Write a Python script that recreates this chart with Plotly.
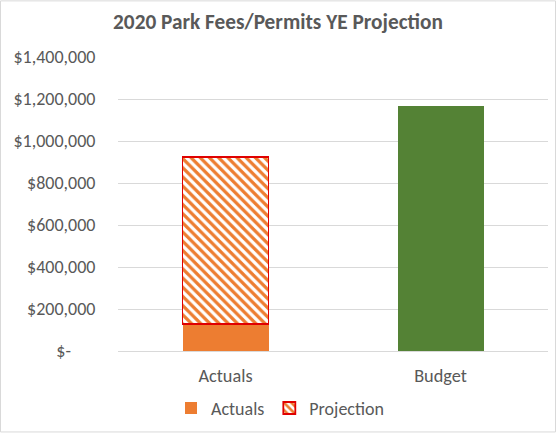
import plotly.graph_objects as go

categories = ["Actuals", "Budget"]
actuals = [130000]
projection = [795000]
budget = [1165000]
tick_vals = [0, 200000, 400000, 600000, 800000, 1000000, 1200000, 1400000]
tick_text = ["$-      ", "$200,000", "$400,000", "$600,000", "$800,000",
             "$1,000,000", "$1,200,000", "$1,400,000"]

FONT = "Calibri, Carlito, 'Open Sans', sans-serif"
GRAY = "#595959"

fig = go.Figure()
fig.add_trace(go.Bar(
    name="Actuals", x=[categories[0]], y=actuals, width=0.4,
    marker=dict(color="#ED7D31", line=dict(width=0)),
))
fig.add_trace(go.Bar(
    name="Projection", x=[categories[0]], y=projection, width=0.4,
    marker=dict(color="white",
                line=dict(color="#E00000", width=1.8),
                pattern=dict(shape="\\", fgcolor="#ED7D31", bgcolor="white",
                             fgopacity=1, size=6.5, solidity=0.5,
                             fillmode="overlay")),
))
fig.add_trace(go.Bar(
    name="Budget", x=[categories[1]], y=budget, width=0.4,
    marker=dict(color="#548235", line=dict(width=0)), showlegend=False,
))

L, R, T, B = 118, 8, 57, 82
W, H = 556, 435
pw, ph = W - L - R, H - T - B

fig.update_layout(
    width=W, height=H,
    margin=dict(l=L, r=R, t=T, b=B),
    barmode="stack",
    plot_bgcolor="white", paper_bgcolor="white",
    font=dict(family=FONT, color=GRAY, size=18),
    title=dict(text="<b>2020 Park Fees/Permits YE Projection</b>",
               x=0.5, xanchor="center", y=1 - 22 / H, yanchor="middle",
               font=dict(family=FONT, size=21.3, color=GRAY)),
    legend=dict(orientation="h", x=(280 - L) / pw, xanchor="center",
                y=(H - B - 410.7) / ph, yanchor="middle",
                font=dict(size=18, color=GRAY), traceorder="normal",
                itemwidth=30),
    xaxis=dict(type="category", categoryorder="array", categoryarray=categories,
               range=[-0.5, 1.5], showgrid=False, showline=False,
               ticks="outside", ticklen=8, tickcolor="rgba(0,0,0,0)",
               tickfont=dict(size=18.3, color=GRAY)),
    yaxis=dict(range=[0, 1400000], tickvals=tick_vals, ticktext=tick_text,
               showgrid=True, gridcolor="#D9D9D9", gridwidth=1,
               zeroline=True, zerolinecolor="#D9D9D9", zerolinewidth=1,
               showline=False, ticks="outside", ticklen=18,
               tickcolor="rgba(0,0,0,0)", tickfont=dict(size=18, color=GRAY)),
    shapes=[dict(type="rect", xref="paper", yref="paper",
                 x0=(-L + 0.5) / pw, x1=(pw + R - 0.5) / pw,
                 y0=(-B + 0.5) / ph, y1=(ph + T - 0.5) / ph,
                 line=dict(color="#D9D9D9", width=1), fillcolor="rgba(0,0,0,0)",
                 layer="below")],
)

fig.write_html("out.html", config={"displayModeBar": False},
               post_script="document.body.style.margin='0';")
